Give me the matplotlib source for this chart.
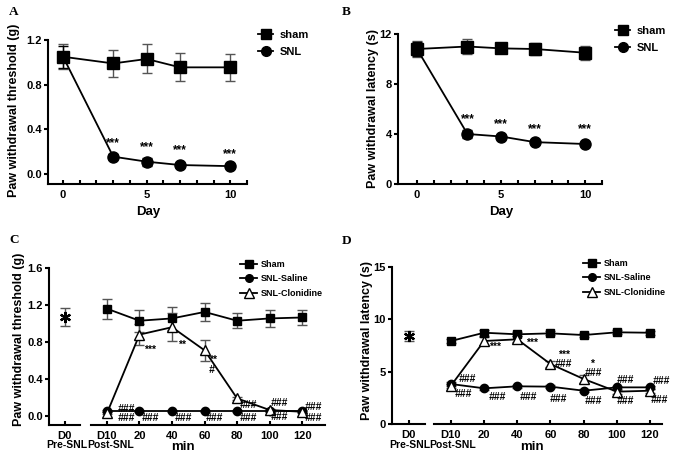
import matplotlib
matplotlib.use('Agg')
import matplotlib.pyplot as plt
from matplotlib.lines import Line2D

plt.rcParams['font.family'] = ['Liberation Sans', 'DejaVu Sans']
plt.rcParams['font.weight'] = 'bold'
plt.rcParams['axes.linewidth'] = 1.5

# ---------------- data ----------------
days = [0, 3, 5, 7, 10]
a_sham = [1.05, 0.99, 1.03, 0.955, 0.955]
a_sham_err = [0.11, 0.12, 0.13, 0.125, 0.12]
a_snl = [1.05, 0.155, 0.11, 0.08, 0.07]
a_snl_err = [0.10, 0.02, 0.035, 0.015, 0.01]
a_stars = [(3, 0.28), (5, 0.24), (7, 0.21), (10, 0.18)]

b_sham = [10.8, 11.0, 10.85, 10.8, 10.5]
b_sham_err = [0.65, 0.6, 0.4, 0.5, 0.55]
b_snl = [10.8, 4.0, 3.8, 3.35, 3.2]
b_snl_err = [0.6, 0.3, 0.15, 0.15, 0.1]
b_stars = [(3, 5.2), (5, 4.8), (7, 4.35), (10, 4.35)]

mins = [0, 20, 40, 60, 80, 100, 120]
min_labels = ['D10', '20', '40', '60', '80', '100', '120']

c_d0 = 1.07
c_d0_err = 0.10
c_sham = [1.16, 1.03, 1.055, 1.125, 1.03, 1.055, 1.065]
c_sham_err = [0.11, 0.12, 0.12, 0.10, 0.08, 0.09, 0.08]
c_saline = [0.05, 0.05, 0.05, 0.05, 0.05, 0.05, 0.05]
c_saline_err = [0.01, 0.01, 0.01, 0.01, 0.01, 0.01, 0.01]
c_clon = [0.03, 0.88, 0.96, 0.71, 0.19, 0.065, 0.046]
c_clon_err = [0.01, 0.11, 0.15, 0.11, 0.02, 0.01, 0.01]
c_marks = [(26.5, 0.72, '***'), (46, 0.765, '**'), (65, 0.61, '**'), (64, 0.50, '#'),
           (12, 0.076, '###'), (12, -0.02, '###'), (26.5, -0.02, '###'),
           (47, -0.02, '###'), (66, -0.02, '###'), (87, 0.12, '###'), (87, -0.02, '###'),
           (106, 0.14, '###'), (106, -0.01, '###'), (127, 0.10, '###'), (127, -0.02, '###')]

d_d0 = 8.4
d_d0_err = 0.5
d_sham = [7.93, 8.72, 8.57, 8.66, 8.5, 8.76, 8.72]
d_sham_err = [0.2, 0.3, 0.2, 0.2, 0.2, 0.2, 0.2]
d_saline = [3.82, 3.41, 3.6, 3.57, 3.18, 3.5, 3.5]
d_saline_err = [0.15, 0.15, 0.15, 0.15, 0.15, 0.15, 0.15]
d_clon = [3.66, 7.93, 8.09, 5.73, 4.3, 3.09, 3.18]
d_clon_err = [0.2, 0.35, 0.3, 0.3, 0.35, 0.2, 0.2]
d_marks = [(26.5, 7.4, '***'), (49, 7.8, '***'), (68, 6.6, '***'), (68, 5.75, '###'),
           (85, 5.7, '*'), (86, 4.87, '###'), (9.6, 4.3, '###'), (7.2, 2.9, '###'),
           (27.7, 2.6, '###'), (46.4, 2.6, '###'), (65, 2.4, '###'), (85.5, 2.2, '###'),
           (105, 4.2, '###'), (105, 2.2, '###'), (127, 4.1, '###'), (125.5, 2.3, '###')]

# ---------------- layout helpers ----------------
W, H = 675, 457
fig = plt.figure(figsize=(W / 100, H / 100), dpi=100)


def ax_px(left, right, top, bottom):
    return fig.add_axes([left / W, 1 - bottom / H, (right - left) / W, (bottom - top) / H])


def ftext(x, y, s, **kw):
    kw.setdefault('ha', 'center')
    kw.setdefault('va', 'center')
    kw.setdefault('fontweight', 'bold')
    return fig.text(x / W, 1 - y / H, s, **kw)


ECOL = '#555555'
TICKFS = 8


def series(ax, x, y, err, marker, ms, mfc='black', ecol=ECOL):
    ax.errorbar(x, y, yerr=err, fmt='none', ecolor=ecol, elinewidth=1.0,
                capsize=3.5, capthick=1.0, clip_on=False, zorder=2)
    ax.plot(x, y, color='black', lw=1.3, marker=marker, ms=ms, mfc=mfc,
            mec='black', mew=1.0, clip_on=False, zorder=3)


def style(ax, left=True):
    for s in ['top', 'right']:
        ax.spines[s].set_visible(False)
    if not left:
        ax.spines['left'].set_visible(False)
        ax.tick_params(axis='y', left=False, labelleft=False)
    ax.tick_params(axis='x', direction='in', length=3, width=1.5, labelsize=TICKFS, pad=4)
    ax.tick_params(axis='x', which='minor', direction='in', length=3, width=1.5)
    ax.tick_params(axis='y', direction='out', length=3, width=1.5, labelsize=TICKFS, pad=1.5)
    for lab in ax.get_xticklabels() + ax.get_yticklabels():
        lab.set_fontweight('bold')


def legend(ax, handles, labels, x, y, fs, spacing, hl, pad):
    ax.legend(handles, labels, loc='upper left', bbox_to_anchor=(x / W, 1 - y / H),
              bbox_transform=fig.transFigure, frameon=False,
              handlelength=hl, handletextpad=pad, labelspacing=spacing,
              borderpad=0, borderaxespad=0, prop={'weight': 'bold', 'size': fs})


sq = Line2D([], [], color='black', lw=1.3, marker='s', ms=7)
ci = Line2D([], [], color='black', lw=1.3, marker='o', ms=7)
sq_s = Line2D([], [], color='black', lw=1.3, marker='s', ms=5.5)
ci_s = Line2D([], [], color='black', lw=1.3, marker='o', ms=5.5)
tr_s = Line2D([], [], color='black', lw=1.3, marker='^', ms=6.5, mfc='white')

# ---------------- Panel A ----------------
axA = ax_px(48, 247, 40, 184)
series(axA, days, a_sham, a_sham_err, 's', 8)
series(axA, days, a_snl, a_snl_err, 'o', 8, ecol='black')
axA.set_xlim(-0.9, 11)
axA.set_ylim(-0.09, 1.2)
axA.set_xticks([0, 5, 10])
axA.set_xticks(range(0, 12), minor=True)
axA.set_yticks([0.0, 0.4, 0.8, 1.2])
axA.set_yticklabels(['0.0', '0.4', '0.8', '1.2'])
style(axA)
for x, y in a_stars:
    axA.text(x, y, '***', ha='center', va='center', fontsize=8.5, fontweight='bold')
ftext(14, 110, 'Paw withdrawal threshold (g)', rotation=90, fontsize=9)
ftext(148, 212, 'Day', fontsize=9.5)
legend(axA, [sq, ci], ['sham', 'SNL'], 258, 30, 8, 0.6, 1.35, 0.6)
ftext(9, 12, 'A', family='Liberation Serif', fontsize=9.5, ha='left')

# ---------------- Panel B ----------------
axB = ax_px(398, 602, 34, 184)
series(axB, days, b_sham, b_sham_err, 's', 8)
series(axB, days, b_snl, b_snl_err, 'o', 8, ecol='black')
axB.set_xlim(-1.13, 11)
axB.set_ylim(0, 12)
axB.set_xticks([0, 5, 10])
axB.set_xticks(range(0, 12), minor=True)
axB.set_yticks([0, 4, 8, 12])
style(axB)
for x, y in b_stars:
    axB.text(x, y, '***', ha='center', va='center', fontsize=8.5, fontweight='bold')
ftext(373, 109, 'Paw withdrawal latency (s)', rotation=90, fontsize=9)
ftext(501, 212, 'Day', fontsize=9.5)
legend(axB, [sq, ci], ['sham', 'SNL'], 615, 26, 8, 0.6, 1.35, 0.6)
ftext(342, 12, 'B', family='Liberation Serif', fontsize=9.5, ha='left')


# ---------------- Panels C / D ----------------
def panel_cd(lx0, lx1, rx0, rx1, top, bottom, ylim, yticks, yticklabels, rxlim,
             d0, d0err, sham, sham_err, sal, sal_err, clon, clon_err, marks):
    axL = ax_px(lx0, lx1, top, bottom)
    axR = ax_px(rx0, rx1, top, bottom)
    axL.errorbar([0], [d0], yerr=[d0err], fmt='none', ecolor=ECOL, elinewidth=1.0,
                 capsize=3.5, capthick=1.0)
    axL.plot([0], [d0], marker=(6, 2, 0), ms=8, mew=1.6, color='black', ls='none')
    axL.set_xlim(-1, 1)
    axL.set_ylim(*ylim)
    axL.set_xticks([0])
    axL.set_xticklabels(['D0'])
    axL.set_yticks(yticks)
    axL.set_yticklabels(yticklabels)
    style(axL)

    series(axR, mins, sham, sham_err, 's', 6)
    series(axR, mins, sal, sal_err, 'o', 6)
    series(axR, mins, clon, clon_err, '^', 7, mfc='white')
    axR.set_xlim(*rxlim)
    axR.set_ylim(*ylim)
    axR.set_xticks(mins)
    axR.set_xticklabels(min_labels)
    style(axR, left=False)
    for x, y, t in marks:
        axR.text(x, y, t, ha='center', va='center', fontsize=7.5, fontweight='bold',
                 style='italic' if '#' in t else 'normal')
    return axL, axR


axCL, axCR = panel_cd(49, 80, 91, 325, 268, 425, (-0.097, 1.6), [0, 0.4, 0.8, 1.2, 1.6],
                      ['0.0', '0.4', '0.8', '1.2', '1.6'], (-9.8, 134),
                      c_d0, c_d0_err, c_sham, c_sham_err, c_saline, c_saline_err,
                      c_clon, c_clon_err, c_marks)
ftext(19, 339, 'Paw withdrawal threshold (g)', rotation=90, fontsize=9)
ftext(67, 445, 'Pre-SNL', fontsize=7.5)
ftext(111, 445, 'Post-SNL', fontsize=7.5)
ftext(183, 447.5, 'min', fontsize=9.5)
legend(axCR, [sq_s, ci_s, tr_s], ['Sham', 'SNL-Saline', 'SNL-Clonidine'], 240, 260, 6.5, 0.6, 1.9, 0.4)
ftext(9, 240, 'C', family='Liberation Serif', fontsize=9.5, ha='left')

axDL, axDR = panel_cd(392, 425, 434, 662, 267, 424, (0, 15), [0, 5, 10, 15],
                      ['0', '5', '10', '15'], (-10.2, 127.2),
                      d_d0, d_d0_err, d_sham, d_sham_err, d_saline, d_saline_err,
                      d_clon, d_clon_err, d_marks)
ftext(367, 340, 'Paw withdrawal latency (s)', rotation=90, fontsize=9)
ftext(410, 445, 'Pre-SNL', fontsize=7.5)
ftext(453, 445, 'Post-SNL', fontsize=7.5)
ftext(532, 447.5, 'min', fontsize=9.5)
legend(axDR, [sq_s, ci_s, tr_s], ['Sham', 'SNL-Saline', 'SNL-Clonidine'], 583, 259, 6.5, 0.6, 1.9, 0.4)
ftext(342, 241, 'D', family='Liberation Serif', fontsize=9.5, ha='left')

fig.savefig('out.png', dpi=100)
